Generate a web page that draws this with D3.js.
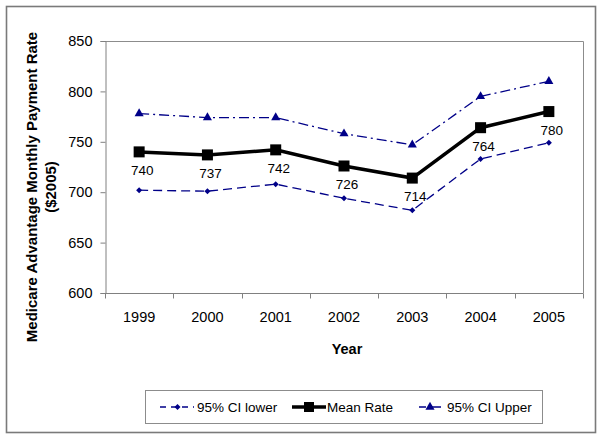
<!DOCTYPE html>
<html>
<head>
<meta charset="utf-8">
<script src="https://cdn.jsdelivr.net/npm/d3@7"></script>
<style>
  html, body { margin: 0; padding: 0; background: #fff; }
  svg { display: block; font-family: "Liberation Sans", Arial, sans-serif; }
</style>
</head>
<body>
<svg id="chart" width="602" height="439"></svg>
<script>
const years = ["1999", "2000", "2001", "2002", "2003", "2004", "2005"];
const ciLower = [702, 701, 708, 694, 682, 733, 749];
const meanRate = [740, 737, 742, 726, 714, 764, 780];
const ciUpper = [778, 774, 774, 758, 747, 795, 810];
const yTicks = [600, 650, 700, 750, 800, 850];
const seriesNames = ["95% CI lower", "Mean Rate", "95% CI Upper"];

const svg = d3.select("#chart");
const navy = "#000088";

// outer frame
svg.append("rect").attr("x", 6.5).attr("y", 6.5).attr("width", 589).attr("height", 426)
  .attr("fill", "#fff").attr("stroke", "#7a7a7a").attr("stroke-width", 1.6);

const plot = { left: 105, top: 41, right: 583, bottom: 293 };

const x = d3.scaleBand().domain(years).range([plot.left, plot.right]);
const y = d3.scaleLinear().domain([600, 850]).range([plot.bottom, plot.top]);
const cx = d => x(d) + x.bandwidth() / 2;

// plot area border (top and right)
svg.append("path")
  .attr("d", `M${plot.left},${plot.top + 0.5}H${plot.right + 0.5}V${plot.bottom}`)
  .attr("fill", "none").attr("stroke", "#8c8c8c").attr("stroke-width", 1);

// y axis
const yAxis = svg.append("g").attr("transform", `translate(${plot.left + 0.5},0)`)
  .call(d3.axisLeft(y).tickValues(yTicks).tickSize(5).tickPadding(8).tickFormat(d3.format("d")));
yAxis.select(".domain").attr("stroke", "#808080");
yAxis.selectAll(".tick line").attr("stroke", "#808080");
yAxis.selectAll("text").attr("font-size", 14.5).attr("fill", "#000")
  .attr("font-family", "Liberation Sans, Arial, sans-serif");

// x axis: ticks at category boundaries
const xAxisG = svg.append("g").attr("transform", `translate(0,${plot.bottom + 0.5})`);
xAxisG.append("line").attr("x1", plot.left).attr("x2", plot.right + 0.5)
  .attr("stroke", "#808080");
const bounds = years.map(d => x(d)).concat([plot.right]);
xAxisG.selectAll("line.tk").data(bounds).join("line").attr("class", "tk")
  .attr("x1", d => Math.round(d) + 0.5).attr("x2", d => Math.round(d) + 0.5)
  .attr("y1", 0).attr("y2", 5).attr("stroke", "#808080");
xAxisG.selectAll("text").data(years).join("text")
  .attr("x", d => cx(d)).attr("y", 28).attr("text-anchor", "middle")
  .attr("font-size", 14.5).text(d => d);

// axis titles
svg.append("text").attr("x", cx("2002") + 3).attr("y", 354).attr("text-anchor", "middle")
  .attr("font-size", 14.5).attr("font-weight", "bold").text("Year");
const yt = svg.append("text").attr("transform", "translate(0,187) rotate(-90)")
  .attr("text-anchor", "middle").attr("font-size", 15).attr("font-weight", "bold");
yt.append("tspan").attr("x", 0).attr("y", 37).text("Medicare Advantage Monthly Payment Rate");
yt.append("tspan").attr("x", 0).attr("y", 56).text("($2005)");

const line = d3.line().x((d, i) => cx(years[i])).y(d => y(d));

// CI upper
svg.append("path").datum(ciUpper).attr("d", line).attr("fill", "none")
  .attr("stroke", navy).attr("stroke-width", 1.3).attr("stroke-dasharray", "10,4,2,4");
svg.selectAll("path.tri").data(ciUpper).join("path").attr("class", "tri")
  .attr("transform", (d, i) => `translate(${cx(years[i])},${y(d)})`)
  .attr("d", d3.symbol(d3.symbolTriangle, 36)).attr("fill", navy);

// CI lower
svg.append("path").datum(ciLower).attr("d", line).attr("fill", "none")
  .attr("stroke", navy).attr("stroke-width", 1.3).attr("stroke-dasharray", "9,5");
svg.selectAll("path.dia").data(ciLower).join("path").attr("class", "dia")
  .attr("transform", (d, i) => `translate(${cx(years[i])},${y(d)}) rotate(45)`)
  .attr("d", d3.symbol(d3.symbolSquare, 18)).attr("fill", navy);

// Mean
svg.append("path").datum(meanRate).attr("d", line).attr("fill", "none")
  .attr("stroke", "#000").attr("stroke-width", 3.5);
svg.selectAll("rect.sq").data(meanRate).join("rect").attr("class", "sq")
  .attr("x", (d, i) => cx(years[i]) - 5.5).attr("y", d => y(d) - 5.5)
  .attr("width", 11).attr("height", 11).attr("fill", "#000");
svg.selectAll("text.lbl").data(meanRate).join("text").attr("class", "lbl")
  .attr("x", (d, i) => cx(years[i]) + 3).attr("y", d => y(d) + 23)
  .attr("text-anchor", "middle").attr("font-size", 13.5).text(d => d);

// legend
const lg = svg.append("g");
lg.append("rect").attr("x", 145.5).attr("y", 390.5).attr("width", 397).attr("height", 33)
  .attr("fill", "#fff").attr("stroke", "#8c8c8c");
const ly = 407;
// entry 1
lg.append("line").attr("x1", 160).attr("x2", 194).attr("y1", ly).attr("y2", ly)
  .attr("stroke", navy).attr("stroke-width", 1.3).attr("stroke-dasharray", "6,5");
lg.append("path").attr("transform", `translate(177.5,${ly}) rotate(45)`)
  .attr("d", d3.symbol(d3.symbolSquare, 18)).attr("fill", navy);
lg.append("text").attr("x", 197).attr("y", ly + 5).attr("font-size", 13.5).text(seriesNames[0]);
// entry 2
lg.append("line").attr("x1", 292).attr("x2", 326).attr("y1", ly).attr("y2", ly)
  .attr("stroke", "#000").attr("stroke-width", 3.5);
lg.append("rect").attr("x", 304).attr("y", ly - 5).attr("width", 10).attr("height", 10).attr("fill", "#000");
lg.append("text").attr("x", 327).attr("y", ly + 5).attr("font-size", 13.5).text(seriesNames[1]);
// entry 3
lg.append("line").attr("x1", 419).attr("x2", 441).attr("y1", ly).attr("y2", ly)
  .attr("stroke", navy).attr("stroke-width", 1.3).attr("stroke-dasharray", "7,3,12");
lg.append("path").attr("transform", `translate(430,${ly})`)
  .attr("d", d3.symbol(d3.symbolTriangle, 36)).attr("fill", navy);
lg.append("text").attr("x", 447).attr("y", ly + 5).attr("font-size", 13.5).text(seriesNames[2]);
</script>
</body>
</html>
